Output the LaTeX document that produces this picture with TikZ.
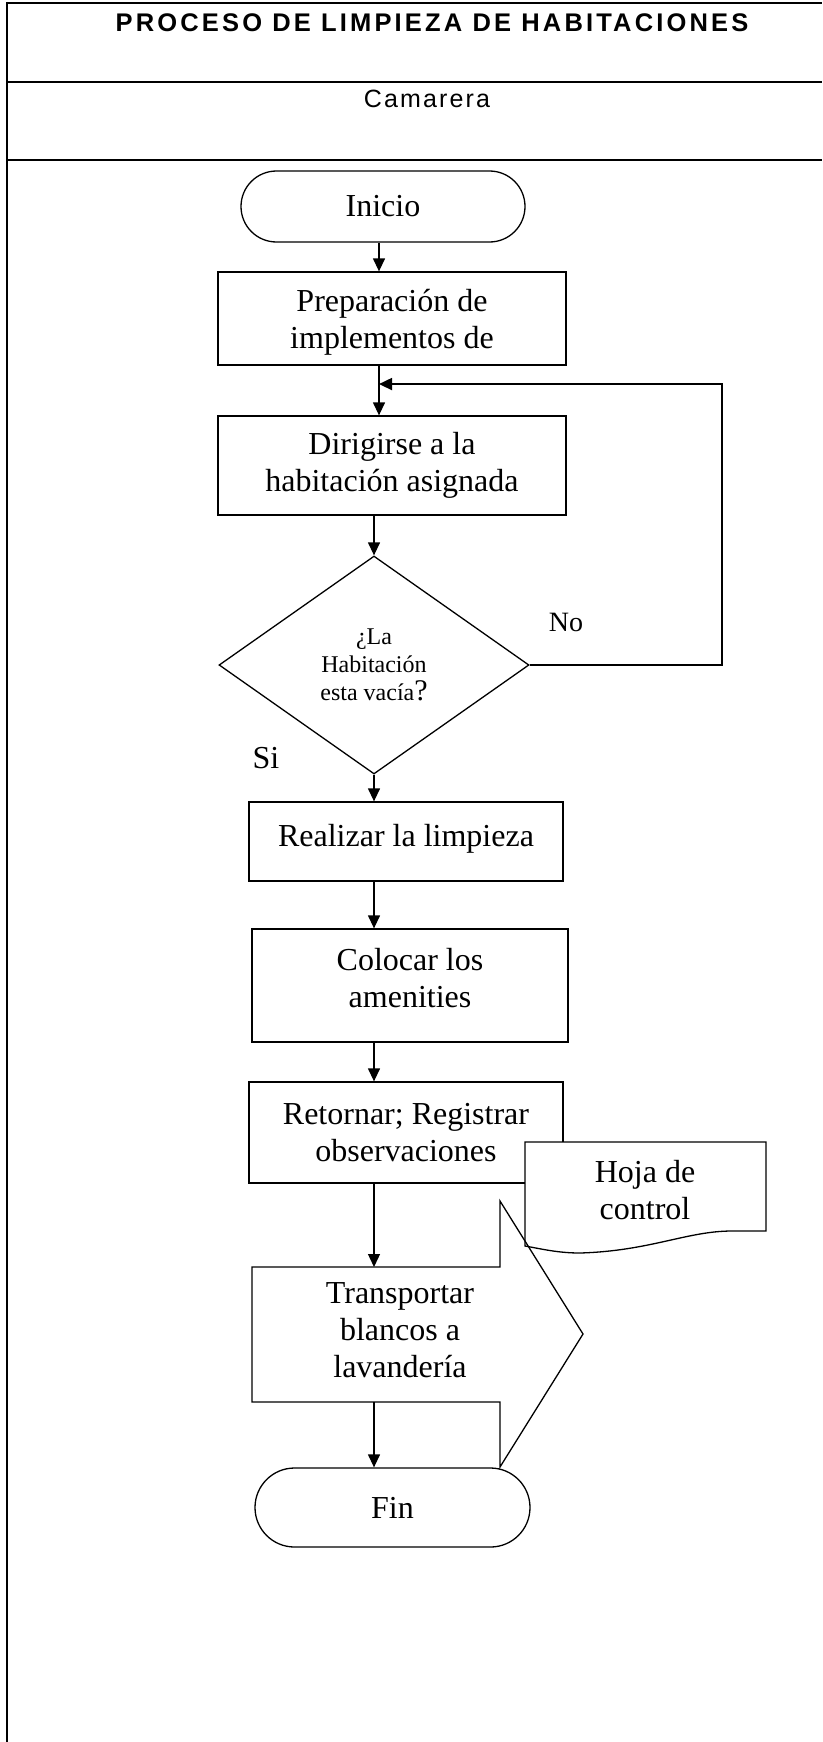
\documentclass[tikz,border=0pt]{standalone}
\usepackage{fontspec}
\setmainfont{Liberation Serif}
\newfontfamily\headfont[LetterSpace=12.4]{Liberation Sans}
\newfontfamily\rolefont[LetterSpace=8.5]{Liberation Sans}
\usetikzlibrary{arrows.meta,shapes.geometric,shapes.misc,calc}

\begin{document}
\begin{tikzpicture}[x=1pt,y=-1pt,
  flow/.style={line width=1.3pt},
  arr/.style={flow,-{Triangle[length=13pt,width=12pt]}},
  grid/.style={line width=2.4pt},
  txt/.style={font=\fontsize{32}{37}\selectfont},
  proc/.style={draw,flow,rectangle,inner sep=0pt,align=center,txt},
  term/.style={draw,flow,rounded rectangle,inner sep=0pt,txt},
  blank/.style={inner sep=0pt,outer sep=0pt},
  label text/.style={align=center,txt,inner sep=0pt}]

\useasboundingbox (0,0) rectangle (822,1742);
\fill[white] (0,0) rectangle (822,1742);

% table frame
\draw[grid] (7,3) -- (822,3);
\draw[grid] (7,82) -- (822,82);
\draw[grid] (7,160) -- (822,160);
\draw[grid] (7,2) -- (7,1742);

\node[anchor=base,font=\headfont\bfseries\fontsize{25.5}{28}\selectfont] (title) at (432,32) {PROCESO DE LIMPIEZA DE HABITACIONES};
\node[anchor=base,font=\rolefont\fontsize{25}{28}\selectfont] (role) at (427,108) {Camarera};

% flow axes
\coordinate (sp1) at (379,0);
\coordinate (sp2) at (374,0);
\coordinate (loopx) at (722,0);

% steps
\node[term,minimum width=284pt,minimum height=71pt] (inicio) at (383,206.5) {Inicio};
\node[proc,minimum width=348pt,minimum height=93pt] (prep) at (392,318.5) {};
\node[label text] (preptxt) at ([yshift=-4pt]prep.center) {Preparación de\\implementos de};
\node[proc,minimum width=348pt,minimum height=99pt] (dir) at (392,465.5) {Dirigirse a la\\habitación asignada};
\node[draw,flow,diamond,inner sep=0pt,minimum width=310pt,minimum height=218pt,align=center,
      font=\fontsize{24}{28}\selectfont] (dec) at (374,665) {¿La\\Habitación\\esta vacía{\fontsize{30}{28}\selectfont ?}};
\node[proc,minimum width=314pt,minimum height=79pt] (real) at (406,841.5) {};
\node[label text] (realtxt) at ([yshift=3pt]real.center) {Realizar la limpieza};
\node[proc,minimum width=316pt,minimum height=113pt] (col) at (410,985.5) {};
\node[label text] (coltxt) at ([yshift=7pt]col.center) {Colocar los\\amenities};
\node[proc,minimum width=314pt,minimum height=101pt] (ret) at (406,1132.5) {Retornar; Registrar\\observaciones};

% control sheet (document symbol)
\node[blank,minimum width=241pt,minimum height=89pt] (hoja) at (645.5,1186.5) {};
\filldraw[flow,fill=white] (hoja.north west) -- (hoja.north east) -- (hoja.south east) -- ++(-34,0)
  .. controls +(-45,0) and +(70,-2) .. ($(hoja.south west)+(55,22)$)
  .. controls +(-22,0) and +(17,3) .. ($(hoja.south west)+(0,15)$) -- cycle;
\node[label text] (hojatxt) at (645,1190) {Hoja de\\control};

% transport symbol
\node[blank,minimum width=248pt,minimum height=135pt] (trbox) at (376,1334.5) {};
\draw[flow,line join=miter] (trbox.north west) -- (trbox.north east) -- ++(0,-66) -- ++(83,133)
  -- ++(-83,133) -- (trbox.south east) -- (trbox.south west) -- cycle;
\node[label text] (trtext) at (400,1330) {Transportar\\blancos a\\lavandería};

\node[term,minimum width=275pt,minimum height=79pt] (fin) at (392.5,1507.5) {Fin};

% labels
\node[anchor=base,font=\fontsize{28}{30}\selectfont] (no) at (566,631) {No};
\node[anchor=base,txt] (si) at (266,768) {Si};

% connectors
\draw[arr] (inicio.south -| sp1) -- (prep.north -| sp1);
\draw[arr] (prep.south -| sp1) -- (dir.north -| sp1);
\draw[arr] (dir.south -| sp2) -- (dec.north);
\draw[arr] (dec.south) -- (real.north -| dec.south);
\draw[arr] (real.south -| sp2) -- (col.north -| sp2);
\draw[arr] (col.south -| sp2) -- (ret.north -| sp2);
\draw[arr] (ret.south -| sp2) -- (trbox.north -| sp2);
\draw[arr] (trbox.south -| sp2) -- (fin.north -| sp2);

\coordinate (join) at ($(prep.south -| sp1)!0.37!(dir.north -| sp1)$);
\draw[arr,line width=1.8pt] (dec.east) -- (dec.east -| loopx) -- (loopx |- join) -- (join);
\end{tikzpicture}
\end{document}
